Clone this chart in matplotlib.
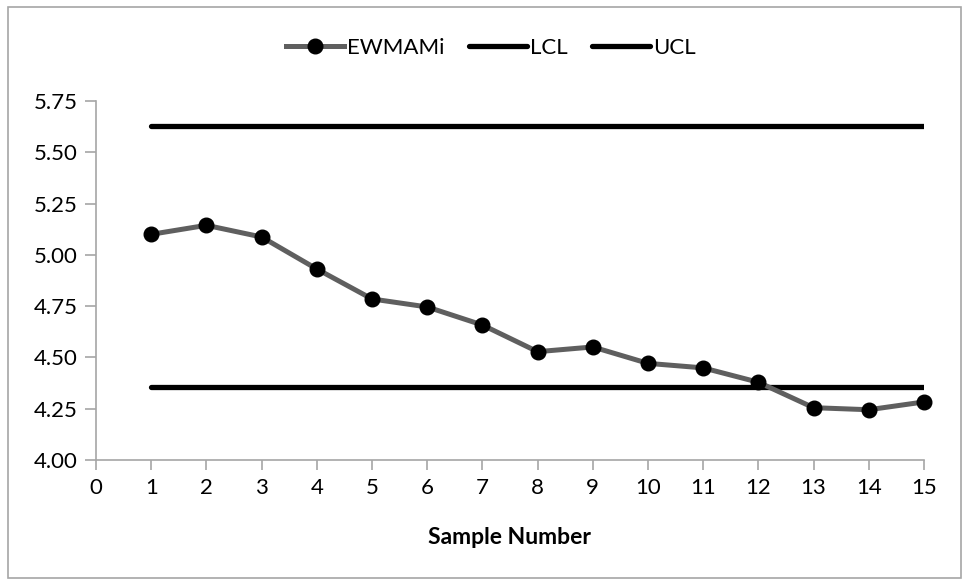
import matplotlib
matplotlib.use("Agg")
import matplotlib.pyplot as plt
from matplotlib.patches import Rectangle

samples = list(range(1, 16))
ewma = [5.100, 5.144, 5.087, 4.931, 4.785, 4.746, 4.658, 4.528,
        4.551, 4.471, 4.449, 4.379, 4.255, 4.245, 4.283]
lcl = [4.356] * 15
ucl = [5.627] * 15
yticks = [4.00, 4.25, 4.50, 4.75, 5.00, 5.25, 5.50, 5.75]

plt.rcParams['font.family'] = ['Lato', 'DejaVu Sans']

fig = plt.figure(figsize=(9.67, 5.8), dpi=100)
ax = fig.add_axes([0.0993, 0.2069, 0.8562, 0.619])

# outer chart border
fig.patches.append(Rectangle((0.008, 0.004), 0.986, 0.984, transform=fig.transFigure,
                             fill=False, edgecolor='#A6A6A6', linewidth=1.2))

ax.plot(samples, ewma, '-o', color='#5F5F5F', linewidth=3.6,
        markerfacecolor='black', markeredgecolor='black', markersize=10.5,
        label='EWMAMi', zorder=3, clip_on=False)
ax.plot(samples, lcl, '-', color='black', linewidth=3.8,
        solid_capstyle='round', label='LCL', zorder=2)
ax.plot(samples, ucl, '-', color='black', linewidth=3.8,
        solid_capstyle='round', label='UCL', zorder=2)

ax.set_xlim(0, 15)
ax.set_ylim(4.0, 5.75)
ax.set_xticks(range(0, 16))
ax.set_yticks(yticks)
ax.set_yticklabels([f'{v:.2f}' for v in yticks])

for side in ['top', 'right']:
    ax.spines[side].set_visible(False)
for side in ['left', 'bottom']:
    ax.spines[side].set_color('#A6A6A6')
    ax.spines[side].set_linewidth(1.2)
ax.tick_params(axis='y', direction='out', length=8, color='#A6A6A6', width=1.2,
               labelsize=16, pad=5)
ax.tick_params(axis='x', direction='out', length=7, color='#A6A6A6', width=1.2,
               labelsize=16, pad=6)

ax.set_xlabel('Sample Number', fontsize=16.5, fontweight='bold', labelpad=21)

ax.legend(loc='lower center', bbox_to_anchor=(0.477, 1.065), ncol=3, frameon=False,
          fontsize=16, handlelength=2.6, handletextpad=0.15, columnspacing=1.1)

fig.savefig('out.png', dpi=100)
